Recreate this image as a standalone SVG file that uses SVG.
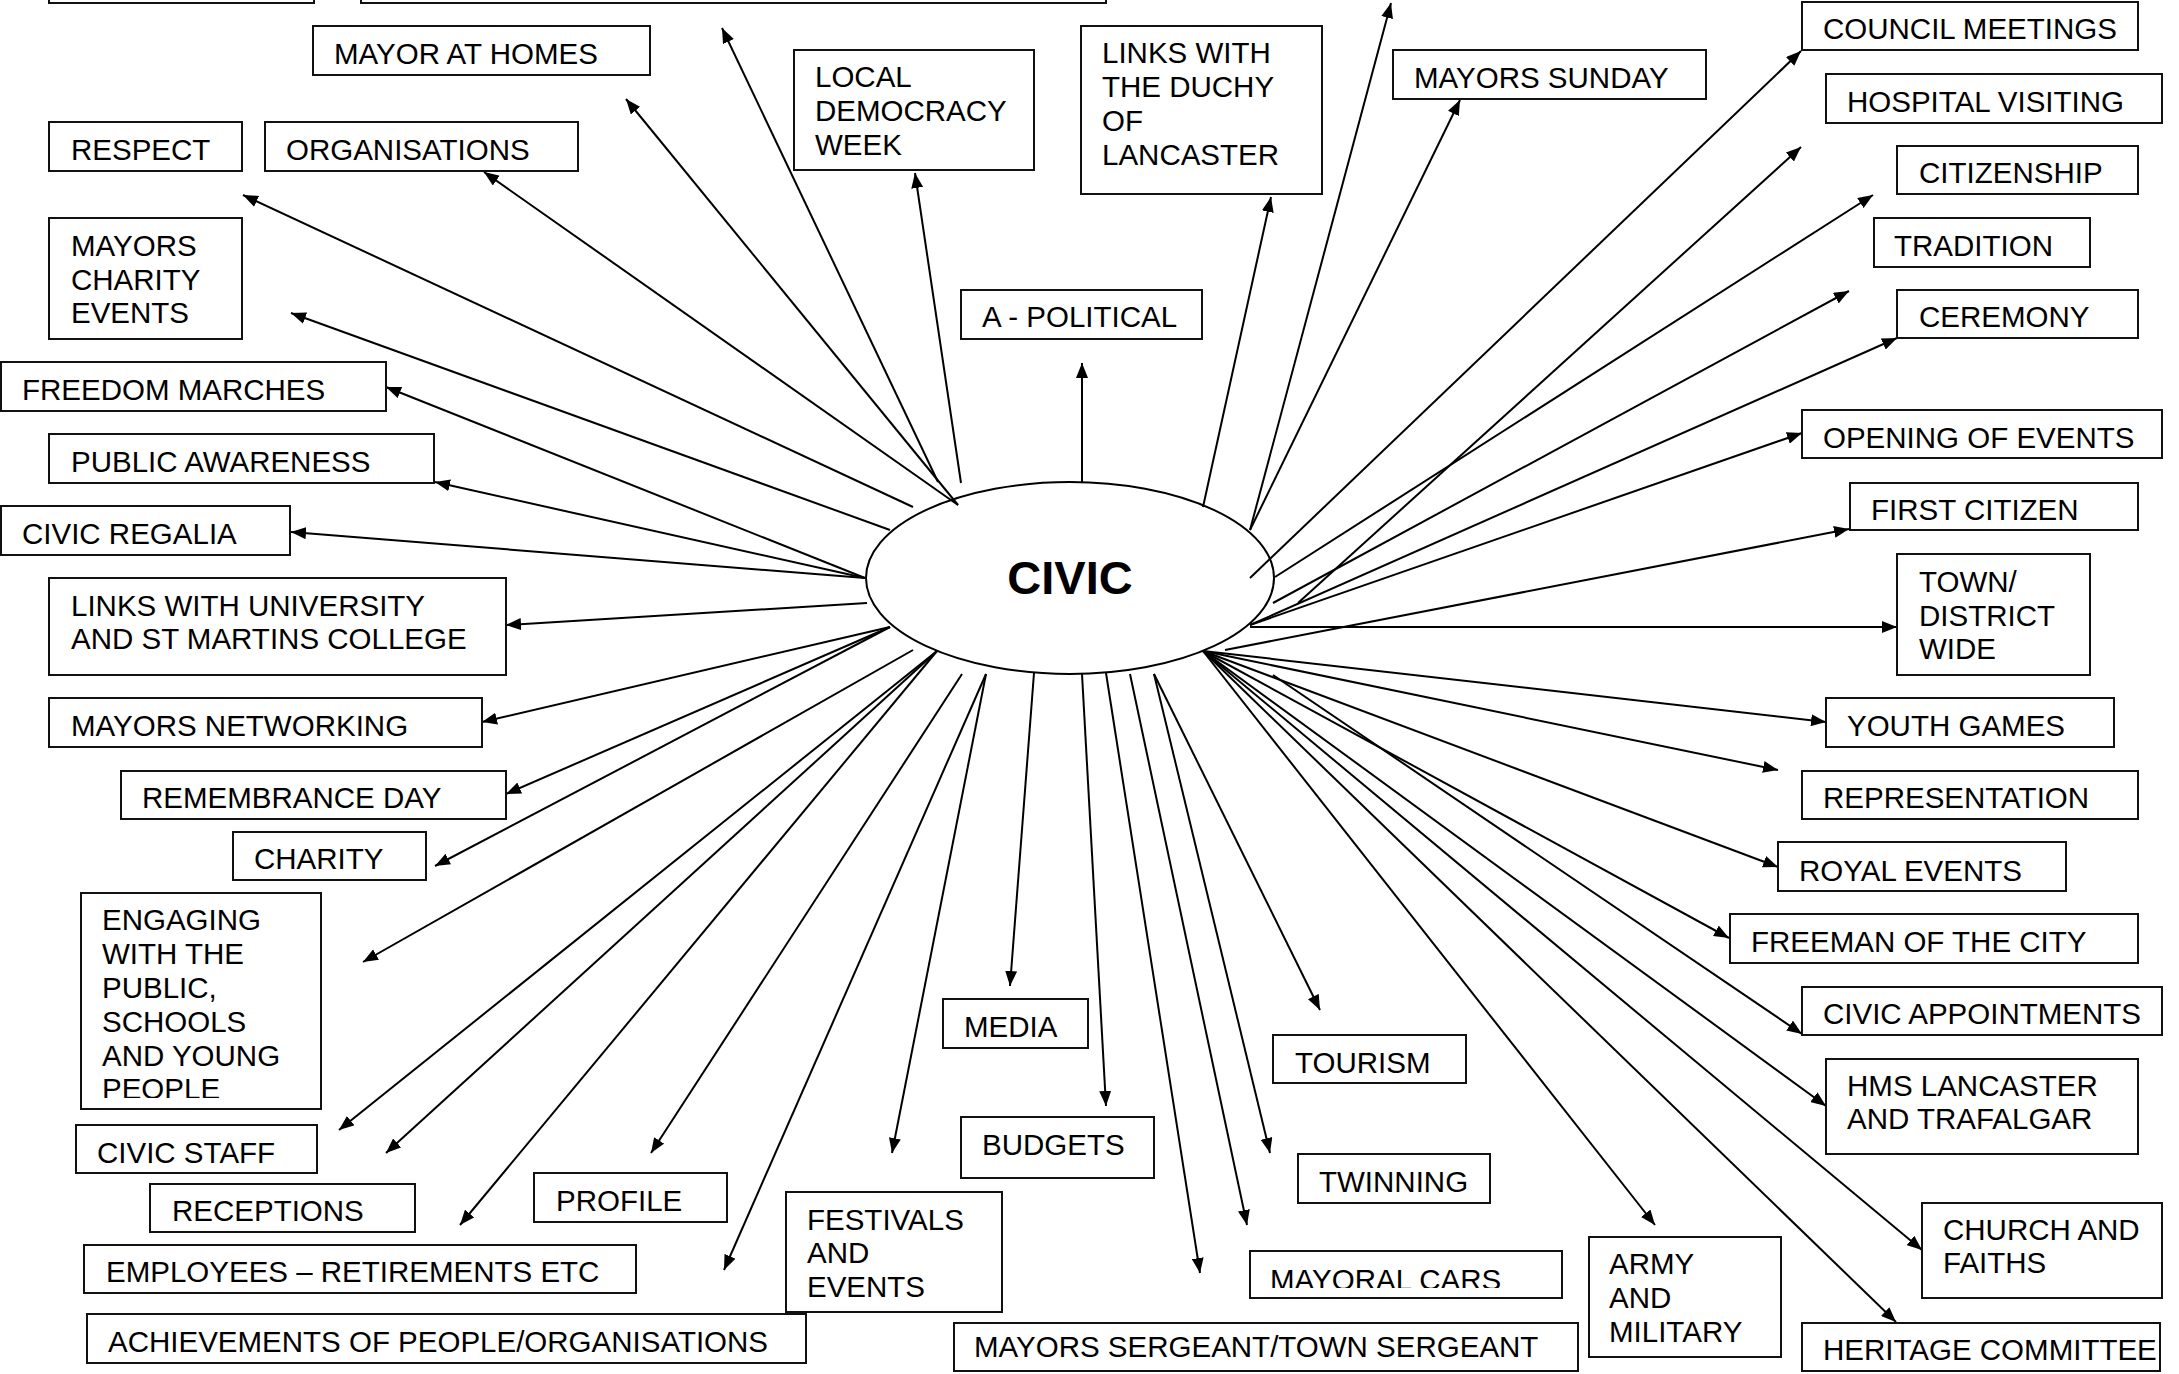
<svg xmlns="http://www.w3.org/2000/svg" width="2179" height="1374" viewBox="0 0 2179 1374">
<style>
.b{fill:#fff;stroke:#111;stroke-width:2}
.t{font-family:"Liberation Sans",Arial,sans-serif;font-size:29.5px;fill:#000}
.c line{stroke:#000;stroke-width:2;marker-end:url(#ah)}
</style>
<defs>
<marker id="ah" markerUnits="userSpaceOnUse" markerWidth="16" markerHeight="12" refX="15" refY="6" orient="auto"><path d="M0,0 L15,6 L0,12 z" fill="#000"/></marker>
<clipPath id="clipCars"><rect x="1240" y="1240" width="330" height="48"/></clipPath>
<clipPath id="clipEng"><rect x="70" y="880" width="260" height="218"/></clipPath>
</defs>
<rect width="2179" height="1374" fill="#fff"/>

<g id="connectors" class="c">
<line x1="938" y1="482" x2="722" y2="28"/>
<line x1="958" y1="505" x2="626" y2="99"/>
<line x1="958" y1="505" x2="484" y2="172"/>
<line x1="913" y1="507" x2="243" y2="195"/>
<line x1="890" y1="530" x2="291" y2="313"/>
<line x1="865" y1="578" x2="386" y2="387"/>
<line x1="865" y1="578" x2="435" y2="482"/>
<line x1="865" y1="578" x2="291" y2="532"/>
<line x1="867" y1="603" x2="506" y2="625"/>
<line x1="890" y1="627" x2="482" y2="722"/>
<line x1="890" y1="627" x2="506" y2="794"/>
<line x1="890" y1="627" x2="435" y2="866"/>
<line x1="913" y1="650" x2="363" y2="962"/>
<line x1="937" y1="651" x2="339" y2="1130"/>
<line x1="937" y1="651" x2="386" y2="1153"/>
<line x1="937" y1="651" x2="460" y2="1225"/>
<line x1="962" y1="674" x2="651" y2="1153"/>
<line x1="986" y1="674" x2="724" y2="1270"/>
<line x1="986" y1="674" x2="892" y2="1153"/>
<line x1="1034" y1="673" x2="1010" y2="986"/>
<line x1="1082" y1="674" x2="1106" y2="1106"/>
<line x1="1106" y1="673" x2="1200" y2="1273"/>
<line x1="1130" y1="674" x2="1247" y2="1225"/>
<line x1="1154" y1="674" x2="1270" y2="1153"/>
<line x1="1154" y1="674" x2="1320" y2="1010"/>
<line x1="1203" y1="651" x2="1655" y2="1225"/>
<line x1="1203" y1="651" x2="1896" y2="1322"/>
<line x1="1203" y1="651" x2="1922" y2="1250"/>
<line x1="1203" y1="651" x2="1826" y2="1106"/>
<line x1="1273" y1="675" x2="1802" y2="1034"/>
<line x1="1203" y1="651" x2="1729" y2="938"/>
<line x1="1203" y1="651" x2="1778" y2="867"/>
<line x1="1203" y1="651" x2="1778" y2="770"/>
<line x1="1203" y1="651" x2="1826" y2="722"/>
<line x1="1250" y1="627" x2="1897" y2="627"/>
<line x1="1225" y1="650" x2="1849" y2="529"/>
<line x1="1250" y1="625" x2="1802" y2="433"/>
<line x1="1250" y1="625" x2="1897" y2="338"/>
<line x1="1273" y1="603" x2="1849" y2="291"/>
<line x1="1298" y1="603" x2="1801" y2="147"/>
<line x1="1275" y1="577" x2="1873" y2="195"/>
<line x1="1250" y1="578" x2="1801" y2="51"/>
<line x1="1250" y1="530" x2="1460" y2="100"/>
<line x1="1250" y1="530" x2="1391" y2="3"/>
<line x1="1203" y1="507" x2="1271" y2="197"/>
<line x1="1082" y1="482" x2="1082" y2="363"/>
<line x1="961" y1="483" x2="915" y2="173"/>
</g>

<g id="civic">
<ellipse cx="1070" cy="578" rx="204" ry="96" fill="none" stroke="#000" stroke-width="2"/>
<text x="1070" y="594" text-anchor="middle" font-family="'Liberation Sans',Arial,sans-serif" font-size="47" font-weight="bold">CIVIC</text>
</g>

<g id="top-box-1"><rect class="b" x="49" y="-50" width="265" height="53"/></g>
<g id="top-box-2"><rect class="b" x="361" y="-50" width="745" height="53"/></g>

<g id="mayor-at-homes"><rect class="b" x="313" y="26" width="337" height="49"/><text class="t" x="334" y="64">MAYOR AT HOMES</text></g>
<g id="respect"><rect class="b" x="49" y="122" width="193" height="49"/><text class="t" x="71" y="160">RESPECT</text></g>
<g id="organisations"><rect class="b" x="265" y="122" width="313" height="49"/><text class="t" x="286" y="160">ORGANISATIONS</text></g>
<g id="mayors-charity-events"><rect class="b" x="49" y="218" width="193" height="121"/><text class="t" x="71" y="256">MAYORS</text><text class="t" x="71" y="290">CHARITY</text><text class="t" x="71" y="323">EVENTS</text></g>
<g id="freedom-marches"><rect class="b" x="1" y="362" width="385" height="49"/><text class="t" x="22" y="400">FREEDOM MARCHES</text></g>
<g id="public-awareness"><rect class="b" x="49" y="434" width="385" height="49"/><text class="t" x="71" y="472">PUBLIC AWARENESS</text></g>
<g id="civic-regalia"><rect class="b" x="1" y="506" width="289" height="49"/><text class="t" x="22" y="544">CIVIC REGALIA</text></g>
<g id="links-university"><rect class="b" x="49" y="578" width="457" height="97"/><text class="t" x="71" y="616">LINKS WITH UNIVERSITY</text><text class="t" x="71" y="649">AND ST MARTINS COLLEGE</text></g>
<g id="mayors-networking"><rect class="b" x="49" y="698" width="433" height="49"/><text class="t" x="71" y="736">MAYORS NETWORKING</text></g>
<g id="remembrance-day"><rect class="b" x="121" y="771" width="385" height="48"/><text class="t" x="142" y="808">REMEMBRANCE DAY</text></g>
<g id="charity"><rect class="b" x="233" y="832" width="193" height="48"/><text class="t" x="254" y="869">CHARITY</text></g>
<g id="engaging"><rect class="b" x="81" y="893" width="240" height="216"/><g clip-path="url(#clipEng)"><text class="t" x="102" y="930">ENGAGING</text><text class="t" x="102" y="964">WITH THE</text><text class="t" x="102" y="998">PUBLIC,</text><text class="t" x="102" y="1032">SCHOOLS</text><text class="t" x="102" y="1066">AND YOUNG</text><text class="t" x="102" y="1099">PEOPLE</text></g></g>
<g id="civic-staff"><rect class="b" x="76" y="1125" width="241" height="48"/><text class="t" x="97" y="1163">CIVIC STAFF</text></g>
<g id="receptions"><rect class="b" x="150" y="1184" width="265" height="48"/><text class="t" x="172" y="1221">RECEPTIONS</text></g>
<g id="profile"><rect class="b" x="534" y="1173" width="193" height="49"/><text class="t" x="556" y="1211">PROFILE</text></g>
<g id="employees"><rect class="b" x="84" y="1245" width="552" height="48"/><text class="t" x="106" y="1282">EMPLOYEES – RETIREMENTS ETC</text></g>
<g id="achievements"><rect class="b" x="87" y="1314" width="719" height="49"/><text class="t" x="108" y="1352">ACHIEVEMENTS OF PEOPLE/ORGANISATIONS</text></g>
<g id="festivals"><rect class="b" x="786" y="1192" width="216" height="120"/><text class="t" x="807" y="1230">FESTIVALS</text><text class="t" x="807" y="1263">AND</text><text class="t" x="807" y="1297">EVENTS</text></g>
<g id="media"><rect class="b" x="943" y="999" width="145" height="49"/><text class="t" x="964" y="1037">MEDIA</text></g>
<g id="budgets"><rect class="b" x="961" y="1117" width="193" height="61"/><text class="t" x="982" y="1155">BUDGETS</text></g>
<g id="mayors-sergeant"><rect class="b" x="954" y="1323" width="624" height="48"/><text class="t" x="974" y="1357">MAYORS SERGEANT/TOWN SERGEANT</text></g>
<g id="mayoral-cars"><rect class="b" x="1250" y="1251" width="312" height="47"/><text class="t" x="1270" y="1290" clip-path="url(#clipCars)">MAYORAL CARS</text></g>
<g id="twinning"><rect class="b" x="1298" y="1154" width="192" height="49"/><text class="t" x="1319" y="1192">TWINNING</text></g>
<g id="tourism"><rect class="b" x="1273" y="1035" width="193" height="48"/><text class="t" x="1295" y="1073">TOURISM</text></g>
<g id="army"><rect class="b" x="1589" y="1237" width="192" height="120"/><text class="t" x="1609" y="1274">ARMY</text><text class="t" x="1609" y="1308">AND</text><text class="t" x="1609" y="1342">MILITARY</text></g>
<g id="heritage"><rect class="b" x="1802" y="1323" width="358" height="48"/><text class="t" x="1823" y="1360">HERITAGE COMMITTEE</text></g>
<g id="church"><rect class="b" x="1922" y="1203" width="240" height="95"/><text class="t" x="1943" y="1240">CHURCH AND</text><text class="t" x="1943" y="1273">FAITHS</text></g>
<g id="hms"><rect class="b" x="1826" y="1059" width="312" height="95"/><text class="t" x="1847" y="1096">HMS LANCASTER</text><text class="t" x="1847" y="1129">AND TRAFALGAR</text></g>
<g id="civic-appointments"><rect class="b" x="1802" y="987" width="360" height="48"/><text class="t" x="1823" y="1024">CIVIC APPOINTMENTS</text></g>
<g id="freeman"><rect class="b" x="1730" y="914" width="408" height="49"/><text class="t" x="1751" y="952">FREEMAN OF THE CITY</text></g>
<g id="royal-events"><rect class="b" x="1778" y="842" width="288" height="49"/><text class="t" x="1799" y="881">ROYAL EVENTS</text></g>
<g id="representation"><rect class="b" x="1802" y="771" width="336" height="48"/><text class="t" x="1823" y="808">REPRESENTATION</text></g>
<g id="youth-games"><rect class="b" x="1826" y="698" width="288" height="49"/><text class="t" x="1847" y="736">YOUTH GAMES</text></g>
<g id="town-district"><rect class="b" x="1897" y="554" width="193" height="121"/><text class="t" x="1919" y="592">TOWN/</text><text class="t" x="1919" y="626">DISTRICT</text><text class="t" x="1919" y="659">WIDE</text></g>
<g id="first-citizen"><rect class="b" x="1850" y="483" width="288" height="47"/><text class="t" x="1871" y="520">FIRST CITIZEN</text></g>
<g id="opening-events"><rect class="b" x="1802" y="410" width="360" height="48"/><text class="t" x="1823" y="448">OPENING OF EVENTS</text></g>
<g id="ceremony"><rect class="b" x="1897" y="290" width="241" height="48"/><text class="t" x="1919" y="327">CEREMONY</text></g>
<g id="tradition"><rect class="b" x="1874" y="218" width="216" height="49"/><text class="t" x="1894" y="256">TRADITION</text></g>
<g id="citizenship"><rect class="b" x="1897" y="146" width="241" height="48"/><text class="t" x="1919" y="183">CITIZENSHIP</text></g>
<g id="hospital-visiting"><rect class="b" x="1826" y="74" width="336" height="49"/><text class="t" x="1847" y="112">HOSPITAL VISITING</text></g>
<g id="council-meetings"><rect class="b" x="1802" y="2" width="336" height="48"/><text class="t" x="1823" y="39">COUNCIL MEETINGS</text></g>
<g id="mayors-sunday"><rect class="b" x="1393" y="50" width="313" height="49"/><text class="t" x="1414" y="88">MAYORS SUNDAY</text></g>
<g id="links-duchy"><rect class="b" x="1081" y="26" width="241" height="168"/><text class="t" x="1102" y="63">LINKS WITH</text><text class="t" x="1102" y="97">THE DUCHY</text><text class="t" x="1102" y="131">OF</text><text class="t" x="1102" y="165">LANCASTER</text></g>
<g id="local-democracy"><rect class="b" x="794" y="50" width="240" height="120"/><text class="t" x="815" y="87">LOCAL</text><text class="t" x="815" y="121">DEMOCRACY</text><text class="t" x="815" y="155">WEEK</text></g>
<g id="a-political"><rect class="b" x="961" y="290" width="241" height="49"/><text class="t" x="982" y="327">A - POLITICAL</text></g>
</svg>
